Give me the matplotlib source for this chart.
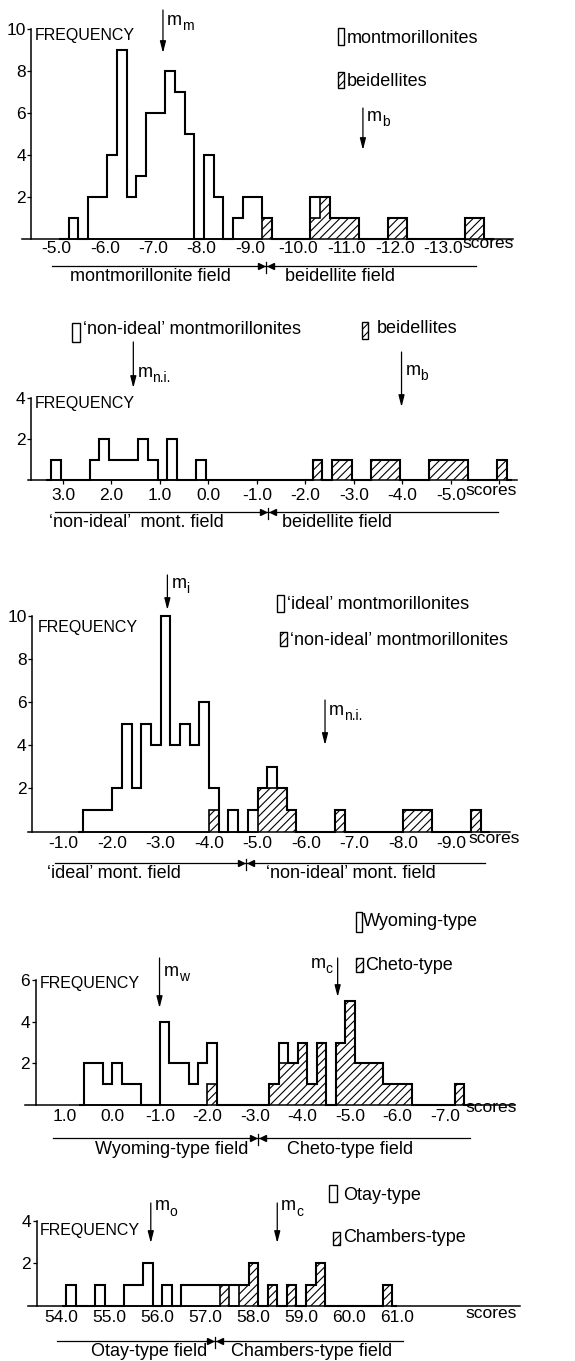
import numpy as np
import matplotlib
matplotlib.use('Agg')
import matplotlib.pyplot as plt
from matplotlib import font_manager, transforms
from matplotlib.patches import Rectangle

# ---- data: bin centres (score units, bin width 0.2) and counts ----
# panel 1: montmorillonites / beidellites
p1_white_c = [-5.35, -5.75, -5.95, -6.15, -6.35, -6.55, -6.75, -6.95, -7.15, -7.35,
              -7.55, -7.75, -8.15, -8.35, -8.75, -8.95, -9.15, -10.35]
p1_white_k = [1, 2, 2, 4, 9, 2, 3, 6, 6, 8, 7, 5, 4, 2, 1, 2, 2, 1]
p1_hatch_c = [-9.35, -10.35, -10.55, -10.75, -10.95, -11.15, -11.95, -12.15, -13.55, -13.75]
p1_hatch_k = [1, 1, 2, 1, 1, 1, 1, 1, 1, 1]
p1_means = [-7.2, -11.34]
p1_border = -9.33
p1_xticks = [-5.0, -6.0, -7.0, -8.0, -9.0, -10.0, -11.0, -12.0, -13.0]

# panel 2: 'non-ideal' montmorillonites / beidellites
p2_white_c = [3.15, 2.35, 2.15, 1.95, 1.75, 1.55, 1.35, 1.15, 0.75, 0.15]
p2_white_k = [1, 1, 2, 1, 1, 1, 2, 1, 2, 1]
p2_hatch_c = [-2.25, -2.65, -2.85, -3.45, -3.65, -3.85, -4.65, -4.85, -5.05, -5.25, -6.05]
p2_hatch_k = [1, 1, 1, 1, 1, 1, 1, 1, 1, 1, 1]
p2_means = [1.55, -3.98]
p2_border = -1.23
p2_xticks = [3.0, 2.0, 1.0, 0.0, -1.0, -2.0, -3.0, -4.0, -5.0, -6.0]

# panel 3: 'ideal' / 'non-ideal' montmorillonites
p3_white_c = [-1.5, -1.7, -1.9, -2.1, -2.3, -2.5, -2.7, -2.9, -3.1, -3.3, -3.5, -3.7,
              -3.9, -4.1, -4.5, -4.9, -5.3]
p3_white_k = [1, 1, 1, 2, 5, 2, 5, 4, 10, 4, 5, 4, 6, 1, 1, 1, 1]
p3_hatch_c = [-4.1, -5.1, -5.3, -5.5, -5.7, -6.7, -8.1, -8.3, -8.5, -9.5]
p3_hatch_k = [1, 2, 2, 2, 1, 1, 1, 1, 1, 1]
p3_means = [-3.14, -6.39]
p3_border = -4.76
p3_xticks = [-1.0, -2.0, -3.0, -4.0, -5.0, -6.0, -7.0, -8.0, -9.0]

# panel 4: Wyoming-type / Cheto-type
p4_white_c = [0.5, 0.3, 0.1, -0.1, -0.3, -0.5, -1.1, -1.3, -1.5, -1.7, -1.9, -2.1, -3.6]
p4_white_k = [2, 2, 1, 2, 1, 1, 4, 2, 2, 1, 2, 2, 1]
p4_hatch_c = [-2.1, -3.4, -3.6, -3.8, -4.0, -4.2, -4.4, -4.8, -5.0, -5.2, -5.4, -5.6,
              -5.8, -6.0, -6.2, -7.3]
p4_hatch_k = [1, 1, 2, 2, 3, 1, 3, 3, 5, 2, 2, 2, 1, 1, 1, 1]
p4_means = [-0.99, -4.74]
p4_border = -3.07
p4_xticks = [1.0, 0.0, -1.0, -2.0, -3.0, -4.0, -5.0, -6.0, -7.0]

# panel 5: Otay-type / Chambers-type
p5_white_c = [54.2, 54.8, 55.4, 55.6, 55.8, 56.2, 56.6, 56.8, 57.0, 57.2, 57.6]
p5_white_k = [1, 1, 1, 1, 2, 1, 1, 1, 1, 1, 1]
p5_hatch_c = [57.4, 57.8, 58.0, 58.4, 58.8, 59.2, 59.4, 60.8]
p5_hatch_k = [1, 1, 2, 1, 1, 1, 2, 1]
p5_means = [55.86, 58.5]
p5_border = 57.2
p5_xticks = [54.0, 55.0, 56.0, 57.0, 58.0, 59.0, 60.0, 61.0]

# ---- fonts ----
names = {f.name for f in font_manager.fontManager.ttflist}
narrow = 'Liberation Sans Narrow' if 'Liberation Sans Narrow' in names else 'Liberation Sans'
plt.rcParams['font.family'] = ['Liberation Sans', 'DejaVu Sans']
plt.rcParams['hatch.linewidth'] = 0.8

W, H = 575, 1361
fig = plt.figure(figsize=(W / 100, H / 100), dpi=100)
ov = fig.add_axes([0, 0, 1, 1])
ov.set_xlim(0, W)
ov.set_ylim(H, 0)
ov.axis('off')
ov.set_zorder(10)

HATCH = '////'


def on_grid(centres, counts, lo, n):
    vals = np.zeros(n)
    for c, k in zip(centres, counts):
        i = int(round((c - 0.1 - lo) / 0.1))
        vals[i:i + 2] += k
    return vals


def panel(top, bottom, baseline, unit, s0, p0, k, sign, yaxis_px, xaxis_px, ymax, yticks,
          xticks, tick_len, xpad):
    score = lambda px: s0 + sign * (px - p0) / k
    ax = fig.add_axes([0, 1 - bottom / H, 1, (bottom - top) / H])
    ax.set_xlim(score(0), score(W))
    ax.set_ylim((baseline - bottom) / unit, (baseline - top) / unit)
    ax.patch.set_alpha(0)
    for sp in ['top', 'right']:
        ax.spines[sp].set_visible(False)
    ax.spines['bottom'].set_position(('data', 0))
    ax.spines['left'].set_position(('data', score(yaxis_px)))
    ax.spines['left'].set_bounds(0, ymax)
    ax.spines['bottom'].set_bounds(*sorted([score(xaxis_px[0]), score(xaxis_px[1])]))
    for sp in ['left', 'bottom']:
        ax.spines[sp].set_linewidth(1.1)
    ax.set_yticks(yticks, labels=[str(v) for v in yticks])
    labels = ['%.1f' % v for v in xticks]
    if sign < 0 and xticks[-1] == -6.0 and len(xticks) == 10:
        labels[-1] = ''
    ax.set_xticks(xticks, labels=labels)
    ax.tick_params(axis='y', direction='out', length=3, width=0.9, pad=1, labelsize=12.5)
    ax.tick_params(axis='x', direction='out', length=tick_len, width=0.9, pad=xpad, labelsize=12.5)
    for lab in ax.get_xticklabels() + ax.get_yticklabels():
        lab.set_fontfamily(narrow)
    return ax


def hist(ax, lo, hi, wc, wk, hc, hk):
    n = int(round((hi - lo) / 0.1))
    edges = lo + 0.1 * np.arange(n + 1)
    hv = on_grid(hc, hk, lo, n)
    wv = on_grid(wc, wk, lo, n)
    ax.stairs(hv, edges, baseline=0, fill=True, facecolor='white', edgecolor='black',
              hatch=HATCH, lw=1.2, zorder=2)
    ax.stairs(hv + wv, edges, baseline=0, fill=False, color='black', lw=1.5, zorder=3)


def mean_arrow(ax, x, y0, y1, sub, ly, side='right'):
    tr = transforms.blended_transform_factory(ax.transData, ov.transData)
    ax.annotate('', xy=(x, y1), xytext=(x, y0), xycoords=tr, textcoords=tr,
                arrowprops=dict(arrowstyle='-|>,head_width=0.18,head_length=0.7',
                                color='black', lw=0.9, mutation_scale=10,
                                shrinkA=0, shrinkB=0))
    # "m" with a small subscript, as two plain texts
    if side == 'right':
        mx, sx, ha = 4, 19, 'left'
    else:
        mx, sx, ha = -5 - 7 * len(sub), -5, 'right'
    ax.text(x, ly, 'm', transform=transforms.offset_copy(tr, fig=fig, x=mx, y=0, units='dots'),
            ha=ha, va='center', fontsize=13)
    ax.text(x, ly + 6, sub, transform=transforms.offset_copy(tr, fig=fig, x=sx, y=0, units='dots'),
            ha=ha, va='center', fontsize=10)


def field(ax, y, x0, x1, border, left_txt, lx, right_txt, rx, ty):
    ov.plot([x0, x1], [y, y], color='black', lw=0.9)
    tr = transforms.blended_transform_factory(ax.transData, ov.transData)
    ax.plot([border, border], [y - 4, y + 7], color='black', lw=0.9, transform=tr,
            clip_on=False)
    for dx, m in [(-5, '>'), (5, '<')]:
        ax.plot([border], [y], marker=m, color='black', ms=4, clip_on=False,
                transform=transforms.offset_copy(tr, fig=fig, x=dx, y=0, units='dots'))
    ov.text(lx, ty, left_txt, ha='center', va='center', fontsize=13)
    ov.text(rx, ty, right_txt, ha='center', va='center', fontsize=13)


def legend_item(x, y, w, h, hatched, txt, tx, ty):
    ov.add_patch(Rectangle((x, y), w, h, facecolor='white', edgecolor='black', lw=1.0,
                           hatch=HATCH if hatched else None))
    ov.text(tx, ty, txt, ha='left', va='center', fontsize=13)


# ---- panel 1 ----
ax1 = panel(0, 290, 239, 21.0, -5.0, 56.7, 48.3, -1, 31.5, (21.7, 513), 10,
            [2, 4, 6, 8, 10], p1_xticks, 0, 1.5)
hist(ax1, -14.05, -5.05, p1_white_c, p1_white_k, p1_hatch_c, p1_hatch_k)
ov.text(35, 35, 'FREQUENCY', ha='left', va='center', fontsize=11.5)
mean_arrow(ax1, p1_means[0], 10, 53, 'm', 20)
mean_arrow(ax1, p1_means[1], 108, 150, 'b', 116)
legend_item(338, 28, 6, 17, False, 'montmorillonites', 347, 38)
legend_item(338, 72, 6, 16, True, 'beidellites', 347, 81)
ov.text(462, 243, 'scores', ha='left', va='center', fontsize=12.5)
field(ax1, 266, 52, 476, p1_border, 'montmorillonite field', 150, 'beidellite field', 340, 276)

# ---- panel 2 ----
ax2 = panel(290, 540, 480, 20.5, -1.0, 257, 48.5, -1, 31, (28, 517), 4,
            [2, 4], p2_xticks, 3, 3)
hist(ax2, -6.25, 3.35, p2_white_c, p2_white_k, p2_hatch_c, p2_hatch_k)
legend_item(72, 323, 8, 19, False, '\u2018non-ideal\u2019 montmorillonites', 83, 329)
legend_item(362, 322, 6, 17, True, 'beidellites', 377, 328)
mean_arrow(ax2, p2_means[0], 342, 388, 'n.i.', 372)
mean_arrow(ax2, p2_means[1], 352, 407, 'b', 370)
ov.text(35, 403, 'FREQUENCY', ha='left', va='center', fontsize=11.5)
ov.text(465, 490, 'scores', ha='left', va='center', fontsize=12.5)
field(ax2, 512, 55, 498, p2_border, '\u2018non-ideal\u2019  mont. field', 136,
      'beidellite field', 337, 522)

# ---- panel 3 ----
ax3 = panel(540, 885, 831.6, 21.6, -1.0, 63.6, 48.5, -1, 32.3, (28, 510), 10,
            [2, 4, 6, 8, 10], p3_xticks, 0, 3.5)
hist(ax3, -9.8, -1.3, p3_white_c, p3_white_k, p3_hatch_c, p3_hatch_k)
mean_arrow(ax3, p3_means[0], 575, 610, 'i', 583)
mean_arrow(ax3, p3_means[1], 700, 745, 'n.i.', 710)
legend_item(277, 595, 7, 17, False, '\u2018ideal\u2019 montmorillonites', 287, 604)
legend_item(280, 632, 7, 14, True, '\u2018non-ideal\u2019 montmorillonites', 290, 640)
ov.text(38, 627, 'FREQUENCY', ha='left', va='center', fontsize=11.5)
ov.text(468, 838, 'scores', ha='left', va='center', fontsize=12.5)
field(ax3, 863, 55, 485, p3_border, '\u2018ideal\u2019 mont. field', 114,
      '\u2018non-ideal\u2019 mont. field', 351, 873)

# ---- panel 4 ----
ax4 = panel(885, 1165, 1105, 20.8, 1.0, 65, 47.5, -1, 35.7, (25, 515), 6,
            [2, 4, 6], p4_xticks, 0, 3)
hist(ax4, -7.6, 0.7, p4_white_c, p4_white_k, p4_hatch_c, p4_hatch_k)
legend_item(356, 912, 6, 20, False, 'Wyoming-type', 363, 921)
legend_item(356, 958, 7, 14, True, 'Cheto-type', 365, 965)
mean_arrow(ax4, p4_means[0], 958, 1008, 'w', 971)
mean_arrow(ax4, p4_means[1], 958, 997, 'c', 963, side='left')
ov.text(40, 983, 'FREQUENCY', ha='left', va='center', fontsize=11.5)
ov.text(465, 1108, 'scores', ha='left', va='center', fontsize=12.5)
field(ax4, 1138, 53, 470, p4_border, 'Wyoming-type field', 172, 'Cheto-type field', 350, 1149)

# ---- panel 5 ----
ax5 = panel(1165, 1361, 1305.7, 21.2, 54.0, 61.7, 47.9, 1, 36.7, (28, 520), 4,
            [2, 4], p5_xticks, 0, 3)
hist(ax5, 54.0, 61.0, p5_white_c, p5_white_k, p5_hatch_c, p5_hatch_k)
legend_item(329, 1185, 8, 17, False, 'Otay-type', 343, 1195)
legend_item(333, 1232, 7, 13, True, 'Chambers-type', 343, 1238)
mean_arrow(ax5, p5_means[0], 1203, 1243, 'o', 1206)
mean_arrow(ax5, p5_means[1], 1203, 1243, 'c', 1206)
ov.text(40, 1230, 'FREQUENCY', ha='left', va='center', fontsize=11.5)
ov.text(465, 1313, 'scores', ha='left', va='center', fontsize=12.5)
field(ax5, 1341, 57, 403, p5_border, 'Otay-type field', 149, 'Chambers-type field', 312, 1352)

fig.savefig('out.png', dpi=100)
